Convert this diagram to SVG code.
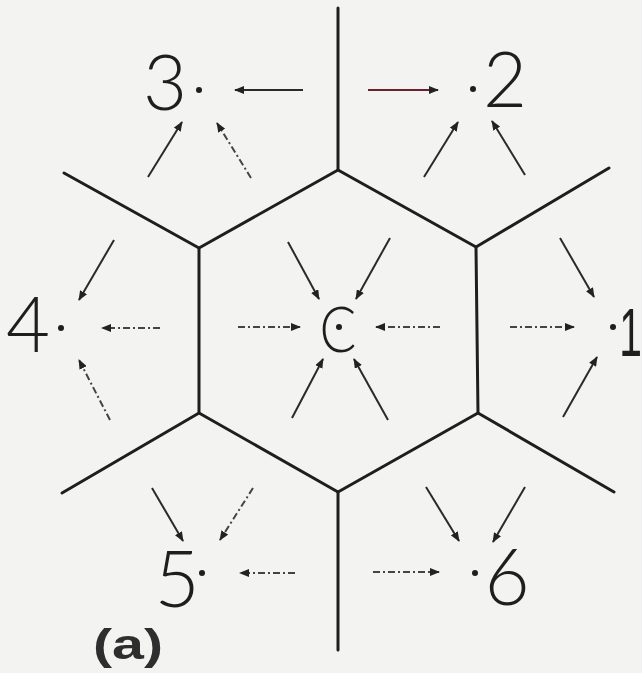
<svg xmlns="http://www.w3.org/2000/svg" width="642" height="673" viewBox="0 0 642 673">
<style>
.bg{fill:#f3f3f1}
.cell{fill:none;stroke:#1e1e1e;stroke-width:3;stroke-linecap:round;stroke-linejoin:round}
.arr{fill:none;stroke:#2a2a2a;stroke-width:2;marker-end:url(#ah)}
.dash{stroke-dasharray:7 3 2 3;stroke:#444}
.red{stroke:#6e1f2c}
.lbl{font-family:"Lato","Liberation Sans",sans-serif;font-weight:300;fill:#1e1e1e;text-anchor:middle}
.dot{fill:#1e1e1e}
.cap{font-family:"Liberation Sans",sans-serif;font-weight:bold;fill:#2e2e2e}
</style>
<defs>
<marker id="ah" viewBox="0 0 10 8" refX="9" refY="4" markerWidth="10" markerHeight="8" markerUnits="userSpaceOnUse" orient="auto">
<path d="M0,0 L10,4 L0,8 Z" fill="#222"/>
</marker>
</defs>
<rect class="bg" x="0" y="0" width="642" height="673"/>
<g id="cells">
<polygon class="cell" points="338,170 476,247 478,413 338,492 199,413 199,248"/>
<line class="cell" x1="338" y1="170" x2="338" y2="8"/>
<line class="cell" x1="199" y1="248" x2="64" y2="173"/>
<line class="cell" x1="476" y1="247" x2="609" y2="168"/>
<line class="cell" x1="199" y1="413" x2="62" y2="493"/>
<line class="cell" x1="478" y1="413" x2="614" y2="492"/>
<line class="cell" x1="338" y1="492" x2="338" y2="650"/>
</g>
<g id="connectors">
<line class="arr" x1="303" y1="90" x2="235" y2="90"/>
<line class="arr red" x1="368" y1="90" x2="438" y2="90"/>
<line class="arr" x1="148" y1="177" x2="182" y2="122"/>
<line class="arr dash" x1="251" y1="178" x2="217" y2="123"/>
<line class="arr" x1="424" y1="177" x2="458" y2="122"/>
<line class="arr" x1="525" y1="175" x2="492" y2="121"/>
<line class="arr" x1="114" y1="240" x2="79" y2="300"/>
<line class="arr" x1="288" y1="242" x2="319" y2="299"/>
<line class="arr" x1="390" y1="238" x2="356" y2="299"/>
<line class="arr" x1="560" y1="238" x2="594" y2="297"/>
<line class="arr dash" x1="160" y1="328" x2="102" y2="328"/>
<line class="arr dash" x1="238" y1="327" x2="300" y2="327"/>
<line class="arr dash" x1="440" y1="327" x2="376" y2="327"/>
<line class="arr dash" x1="510" y1="327" x2="574" y2="327"/>
<line class="arr dash" x1="110" y1="420" x2="79" y2="360"/>
<line class="arr" x1="292" y1="418" x2="323" y2="359"/>
<line class="arr" x1="388" y1="420" x2="354" y2="359"/>
<line class="arr" x1="563" y1="417" x2="597" y2="357"/>
<line class="arr" x1="152" y1="488" x2="183" y2="541"/>
<line class="arr dash" x1="253" y1="488" x2="220" y2="540"/>
<line class="arr dash" x1="295" y1="573" x2="240" y2="573"/>
<line class="arr" x1="426" y1="487" x2="459" y2="541"/>
<line class="arr" x1="525" y1="487" x2="493" y2="542"/>
<line class="arr dash" x1="373" y1="572" x2="439" y2="572"/>
</g>
<g id="node-3"><text class="lbl" x="165" y="110" font-size="76">3</text><circle class="dot" cx="199" cy="90" r="3"/></g>
<g id="node-2"><text class="lbl" x="505" y="107" font-size="76">2</text><circle class="dot" cx="473" cy="89" r="3"/></g>
<g id="node-4"><text class="lbl" x="28" y="352" font-size="76">4</text><circle class="dot" cx="61" cy="328" r="3"/></g>
<g id="node-1"><text x="642" y="356" font-size="68" font-family="Liberation Sans, sans-serif" fill="#1e1e1e" text-anchor="end" transform="translate(642 0) scale(0.6 1) translate(-642 0)">1</text><circle class="dot" cx="613" cy="327" r="3"/></g>
<g id="node-c"><text class="lbl" x="338" y="352" font-size="64" font-weight="400" transform="translate(338 0) scale(0.85 1) translate(-338 0)">C</text><circle class="dot" cx="339" cy="327" r="3"/></g>
<g id="node-5"><text class="lbl" x="177" y="607" font-size="78">5</text><circle class="dot" cx="202" cy="573" r="3"/></g>
<g id="node-6"><text class="lbl" x="507" y="605" font-size="78">6</text><circle class="dot" cx="475" cy="573" r="3"/></g>
<text class="cap" x="93" y="659" font-size="42" textLength="70" lengthAdjust="spacingAndGlyphs">(a)</text>
</svg>
